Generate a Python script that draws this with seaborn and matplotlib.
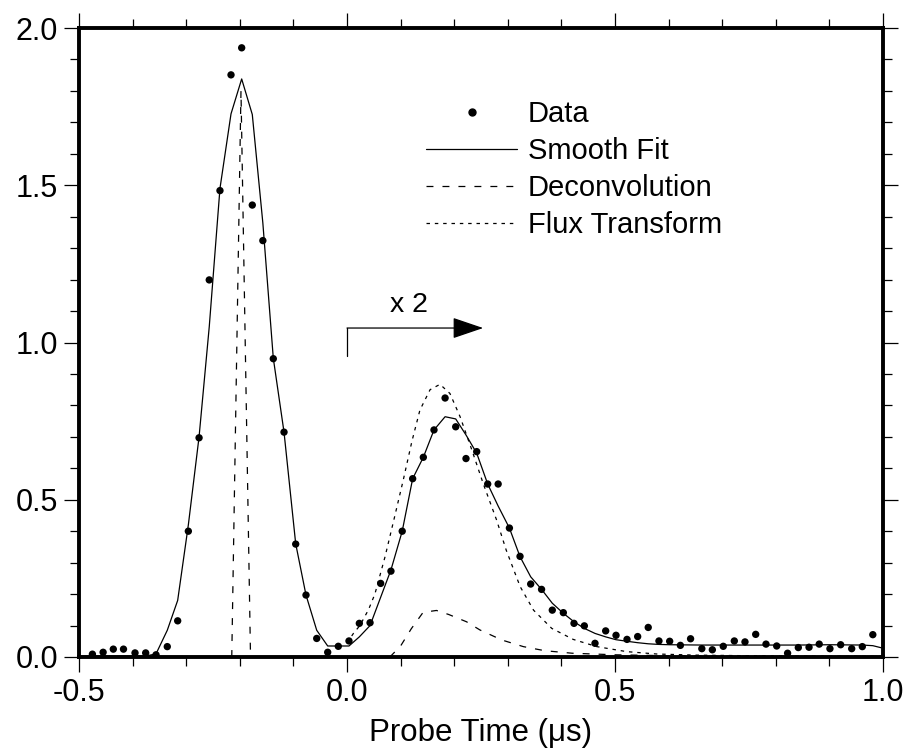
import numpy as np
import matplotlib
matplotlib.use("Agg")
import matplotlib.pyplot as plt
from matplotlib.lines import Line2D
import seaborn as sns

# ---------------- data ----------------
data_x = [-0.475, -0.455, -0.436, -0.417, -0.3955, -0.3756, -0.3563, -0.3353, -0.3159,
          -0.296, -0.276, -0.257, -0.237, -0.2164, -0.1965, -0.1767, -0.157, -0.1375,
          -0.1175, -0.0957, -0.0765, -0.0565, -0.036, -0.0162, 0.0037, 0.023, 0.043,
          0.0628, 0.082, 0.103, 0.1225, 0.1424, 0.1623, 0.183, 0.2028, 0.222, 0.242,
          0.2625, 0.282, 0.303, 0.3228, 0.3427, 0.363, 0.383, 0.4036, 0.4235, 0.4428,
          0.4627, 0.4826, 0.5019, 0.5224, 0.5423, 0.562, 0.582, 0.602, 0.622, 0.641,
          0.662, 0.6816, 0.702, 0.7226, 0.7425, 0.7625, 0.7817, 0.8017, 0.822, 0.842,
          0.862, 0.881, 0.901, 0.921, 0.9416, 0.9614, 0.981]
data_y = [0.009, 0.015, 0.025, 0.025, 0.013, 0.013, 0.007, 0.033, 0.115,
          0.40, 0.697, 1.199, 1.483, 1.851, 1.937, 1.437, 1.324, 0.9485,
          0.715, 0.359, 0.197, 0.059, 0.015, 0.034, 0.051, 0.107, 0.109,
          0.234, 0.273, 0.40, 0.567, 0.635, 0.722, 0.8235, 0.732, 0.631, 0.653,
          0.55, 0.55, 0.41, 0.32, 0.232, 0.215, 0.149, 0.141, 0.107, 0.099,
          0.0435, 0.083, 0.069, 0.056, 0.065, 0.094, 0.051, 0.050, 0.037, 0.058,
          0.0265, 0.023, 0.034, 0.051, 0.048, 0.072, 0.041, 0.035, 0.012, 0.030,
          0.031, 0.041, 0.0265, 0.039, 0.0265, 0.033, 0.071]

fit_x = [-0.5, -0.475, -0.455, -0.436, -0.417, -0.3955, -0.3756, -0.3563, -0.3353, -0.3159,
         -0.296, -0.276, -0.257, -0.237, -0.2164, -0.1965, -0.1767, -0.157, -0.1375,
         -0.1175, -0.0957, -0.0765, -0.0565, -0.036, -0.0162, 0.0037, 0.023, 0.043,
         0.0628, 0.082, 0.103, 0.1225, 0.1424, 0.1623, 0.183, 0.2028, 0.222, 0.242,
         0.2625, 0.282, 0.303, 0.3228, 0.3427, 0.363, 0.383, 0.4036, 0.4235, 0.4428,
         0.4627, 0.4826, 0.5019, 0.5224, 0.5423, 0.562, 0.582, 0.602, 0.662, 0.7226,
         0.7817, 0.842, 0.901, 0.9614, 0.981, 1.0]
fit_y = [0.003, 0.003, 0.003, 0.003, 0.003, 0.003, 0.003, 0.010, 0.085, 0.18,
         0.42, 0.70, 1.05, 1.49, 1.727, 1.838, 1.725, 1.38, 0.95,
         0.715, 0.36, 0.197, 0.085, 0.035, 0.035, 0.035, 0.064, 0.10,
         0.19, 0.277, 0.40, 0.567, 0.635, 0.722, 0.764, 0.757, 0.706, 0.648,
         0.55, 0.48, 0.41, 0.319, 0.255, 0.215, 0.171, 0.139, 0.112, 0.091,
         0.075, 0.064, 0.055, 0.050, 0.0455, 0.042, 0.040, 0.039, 0.038, 0.038,
         0.038, 0.038, 0.039, 0.038, 0.036, 0.028]

decon1_x = [-0.215, -0.1978, -0.180]
decon1_y = [0.0, 1.80, 0.0]
decon2_x = [0.080, 0.100, 0.120, 0.142, 0.167, 0.190, 0.223, 0.248, 0.289, 0.329, 0.369,
            0.420, 0.500, 0.600, 0.700, 0.800, 1.000]
decon2_y = [0.000, 0.035, 0.090, 0.142, 0.148, 0.135, 0.112, 0.086, 0.054, 0.033, 0.020,
            0.012, 0.007, 0.004, 0.003, 0.002, 0.002]

flux_x = [0.0, 0.012, 0.024, 0.040, 0.052, 0.071, 0.088, 0.105, 0.121, 0.136, 0.155, 0.1735,
          0.192, 0.211, 0.233, 0.254, 0.279, 0.297, 0.323, 0.348, 0.382, 0.422, 0.466,
          0.522, 0.578, 0.650, 0.750, 0.850, 1.0]
flux_y = [0.045, 0.075, 0.10, 0.15, 0.20, 0.319, 0.44, 0.563, 0.685, 0.785, 0.85, 0.867,
          0.838, 0.764, 0.658, 0.552, 0.436, 0.34, 0.224, 0.149, 0.091, 0.056, 0.033,
          0.017, 0.0095, 0.006, 0.004, 0.003, 0.002]

legend_labels = ["Data", "Smooth Fit", "Deconvolution", "Flux Transform"]
x_ticks = [-0.5, 0.0, 0.5, 1.0]
x_ticklabels = ["-0.5", "0.0", "0.5", "1.0"]
y_ticks = [0.0, 0.5, 1.0, 1.5, 2.0]
y_ticklabels = ["0.0", "0.5", "1.0", "1.5", "2.0"]

# ---------------- style ----------------
sns.set_theme(style="ticks")
plt.rcParams["font.family"] = ["Liberation Sans", "DejaVu Sans"]
plt.rcParams["axes.unicode_minus"] = False
plt.rcParams["lines.scale_dashes"] = False

DASH = (0, (5.0, 6.5))
DOT = (0, (2.5, 3.5))
LW = 0.9

fig = plt.figure(figsize=(9.06, 7.49), dpi=100)
ax = fig.add_axes([79 / 906, 92 / 749, 804 / 906, 629 / 749])

sns.lineplot(x=fit_x, y=fit_y, ax=ax, color="black", lw=LW, estimator=None, sort=False)
sns.lineplot(x=decon1_x, y=decon1_y, ax=ax, color="black", lw=LW, linestyle=DASH,
             estimator=None, sort=False)
sns.lineplot(x=decon2_x, y=decon2_y, ax=ax, color="black", lw=LW, linestyle=DASH,
             estimator=None, sort=False)
sns.lineplot(x=flux_x, y=flux_y, ax=ax, color="black", lw=LW, linestyle=DOT,
             estimator=None, sort=False)
sns.scatterplot(x=data_x, y=data_y, ax=ax, color="black", s=28, edgecolor="none",
                zorder=4, legend=False)

ax.set_xlim(-0.5, 1.0)
ax.set_ylim(0.0, 2.0)
ax.set_xticks(x_ticks)
ax.set_xticklabels(x_ticklabels)
ax.set_yticks(y_ticks)
ax.set_yticklabels(y_ticklabels)
ax.set_xticks(np.arange(-0.5, 1.0001, 0.1), minor=True)
ax.set_yticks(np.arange(0.0, 2.0001, 0.1), minor=True)

for s in ax.spines.values():
    s.set_linewidth(2.8)
    s.set_color("black")
    s.set_visible(True)

ax.tick_params(which="both", direction="out", top=True, right=True, color="black",
               width=0.9)
ax.tick_params(which="major", length=11, labelsize=22, pad=4, labelcolor="black")
ax.tick_params(which="minor", length=6.5)

ax.set_xlabel("Probe Time (\u03bcs)", fontsize=22.5, color="black", labelpad=7)
ax.set_ylabel("")

# x 2 annotation
ax.plot([0.0, 0.0], [0.957, 1.046], color="black", lw=LW)
ax.annotate("", xy=(0.254, 1.046), xytext=(0.0, 1.046),
            arrowprops=dict(arrowstyle="-|>,head_length=0.97,head_width=0.33",
                            mutation_scale=20, color="black", lw=LW,
                            shrinkA=0, shrinkB=0))
ax.text(0.116, 1.098, "x 2", ha="center", va="baseline", fontsize=20.5, color="black")

# legend
handles = [
    Line2D([], [], color="black", marker="o", markersize=5.0, linestyle="none"),
    Line2D([], [], color="black", lw=LW),
    Line2D([], [], color="black", lw=LW, linestyle=DASH),
    Line2D([], [], color="black", lw=LW, linestyle=DOT),
]
ax.legend(handles, legend_labels, loc="upper left",
          bbox_to_anchor=(426 / 906, 1 - 100 / 749), bbox_transform=fig.transFigure,
          frameon=False, fontsize=21, handlelength=3.12, handletextpad=0.38,
          labelspacing=0.31, borderpad=0, borderaxespad=0, labelcolor="black")

fig.savefig("out.png", dpi=100)
